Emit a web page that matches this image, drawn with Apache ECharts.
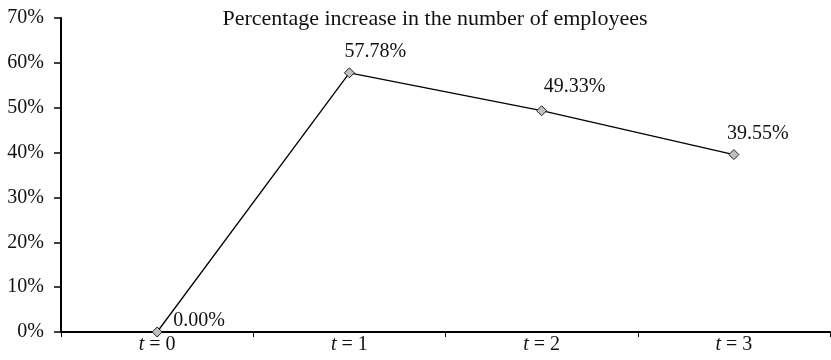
<!DOCTYPE html>
<html>
<head>
<meta charset="utf-8">
<script src="https://cdn.jsdelivr.net/npm/echarts@6/dist/echarts.min.js"></script>
<style>
  html, body { margin: 0; padding: 0; background: #fff; }
  #chart { width: 831px; height: 360px; }
</style>
</head>
<body>
<div id="chart"></div>
<script>
// Periods and the percentage increase in headcount at each
const periods = ['0', '1', '2', '3'];
const increasePct = [0.00, 57.78, 49.33, 39.55];
const yTicks = [0, 10, 20, 30, 40, 50, 60, 70];
const chartTitle = 'Percentage increase in the number of employees';

// Label nudges (x, y) so each value sits up and to the right of its point
const labelNudge = [[42, 9], [26, -1], [33, -3], [24, 0]];

const FONT = '"Liberation Serif", "DejaVu Serif", serif';
const FS = 20;

const chart = echarts.init(document.getElementById('chart'), null, { renderer: 'canvas' });

chart.setOption({
  animation: false,
  backgroundColor: '#ffffff',
  title: {
    text: chartTitle,
    left: 430,
    top: 3,
    textAlign: 'center',
    textStyle: { fontFamily: FONT, fontSize: 22, fontWeight: 'normal', color: '#111' }
  },
  grid: { left: 61, right: 1, top: 18, bottom: 28, containLabel: false },
  xAxis: {
    type: 'category',
    data: periods,
    boundaryGap: true,
    axisLine: { lineStyle: { color: '#000', width: 2 } },
    axisTick: { show: true, length: 5, lineStyle: { color: '#000', width: 1 } },
    axisLabel: {
      margin: 3,
      formatter: v => '{i|t} = ' + v,
      fontFamily: FONT,
      fontSize: FS,
      color: '#111',
      rich: {
        i: { fontFamily: FONT, fontStyle: 'italic', fontSize: FS, color: '#111' }
      }
    },
    splitLine: { show: false }
  },
  yAxis: {
    type: 'value',
    min: yTicks[0],
    max: yTicks[yTicks.length - 1],
    interval: 10,
    axisLine: { show: true, lineStyle: { color: '#000', width: 2 } },
    axisTick: { show: true, length: 7, lineStyle: { color: '#000', width: 1.5 } },
    axisLabel: {
      margin: 17,
      formatter: v => v + '%',
      fontFamily: FONT,
      fontSize: FS,
      color: '#111'
    },
    splitLine: { show: false }
  },
  series: [{
    type: 'line',
    data: increasePct.map((v, i) => ({
      value: v,
      label: { offset: labelNudge[i] }
    })),
    symbol: 'diamond',
    symbolSize: 10,
    showAllSymbol: true,
    lineStyle: { color: '#000', width: 1.3 },
    itemStyle: { color: '#c0c0c0', borderColor: '#222', borderWidth: 1 },
    label: {
      show: true,
      position: 'top',
      formatter: p => p.value.toFixed(2) + '%',
      fontFamily: FONT,
      fontSize: FS,
      color: '#111'
    },
    z: 3
  }]
});
</script>
</body>
</html>
